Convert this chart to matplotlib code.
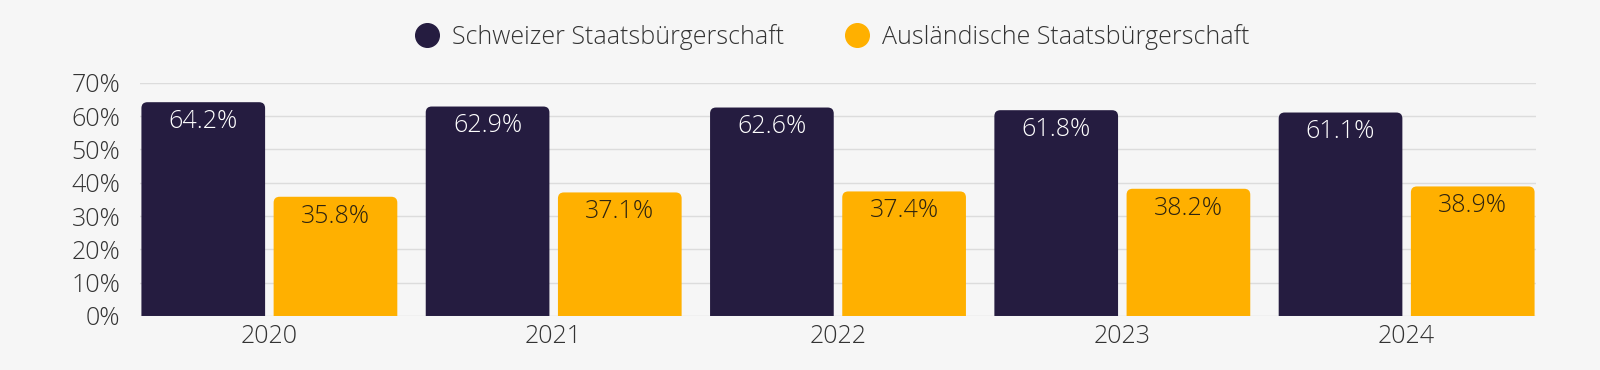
import matplotlib.pyplot as plt
from matplotlib.patches import PathPatch
from matplotlib.path import Path
import numpy as np

plt.rcParams['font.family'] = ['Open Sans', 'DejaVu Sans']

years = ['2020', '2021', '2022', '2023', '2024']
schweizer = [64.2, 62.9, 62.6, 61.8, 61.1]
auslaender = [35.8, 37.1, 37.4, 38.2, 38.9]
series_names = ['Schweizer Staatsbürgerschaft', 'Ausländische Staatsbürgerschaft']

dark = '#251c40'
yellow = '#ffb000'
bg = '#f6f6f6'

fig = plt.figure(figsize=(16, 3.7), dpi=100, facecolor=bg)
ax = fig.add_axes([0.0875, 0.146, 0.8725, 0.630], facecolor=bg)

x = np.arange(len(years))
w = 0.435
gap = 0.015
xlo, xhi = -0.455, len(years) - 1 + 0.455
ax.set_ylim(0, 70)
ax.set_xlim(xlo, xhi)

# corner radius of ~6px in data units on each axis
bbox = ax.get_position()
rx = 6 / (bbox.width * 1600 / (xhi - xlo))
ry = 6 / (bbox.height * 370 / 70)


def rounded_bar(xc, h, color):
    l, r = xc - w / 2, xc + w / 2
    verts = [(l, 0), (l, h - ry), (l, h), (l + rx, h), (r - rx, h), (r, h), (r, h - ry),
             (r, 0), (l, 0)]
    codes = [Path.MOVETO, Path.LINETO, Path.CURVE3, Path.CURVE3, Path.LINETO,
             Path.CURVE3, Path.CURVE3, Path.LINETO, Path.CLOSEPOLY]
    ax.add_patch(PathPatch(Path(verts, codes), fc=color, ec='none', zorder=3))


for xi, v in zip(x - gap - w / 2, schweizer):
    rounded_bar(xi, v, dark)
    ax.annotate(f'{v:.1f}%', (xi, v), xytext=(0, -5), textcoords='offset points',
                ha='center', va='top', color='white', fontsize=18, fontweight='light', zorder=4)
for xi, v in zip(x + gap + w / 2, auslaender):
    rounded_bar(xi, v, yellow)
    ax.annotate(f'{v:.1f}%', (xi, v), xytext=(0, -5), textcoords='offset points',
                ha='center', va='top', color='#2e2410', fontsize=18, fontweight='light', zorder=4)

ax.set_yticks(range(0, 71, 10))
ax.set_yticklabels([f'{t}%' for t in range(0, 71, 10)])
ax.set_xticks(x)
ax.set_xticklabels(years)
ax.tick_params(axis='both', length=0, labelsize=18, labelcolor='#333333')
ax.tick_params(axis='y', pad=14)
ax.tick_params(axis='x', pad=6)
for lab in ax.get_xticklabels() + ax.get_yticklabels():
    lab.set_fontweight('light')
ax.grid(axis='y', color='#dcdcdc', linewidth=1, zorder=0)
for s in ax.spines.values():
    s.set_visible(False)

leg_handles = [plt.Line2D([], [], marker='o', linestyle='', markersize=17, color=c) for c in (dark, yellow)]
fig.legend(handles=leg_handles, labels=series_names, loc='center', bbox_to_anchor=(0.52, 0.9),
           ncol=2, frameon=False, handlelength=1.0, columnspacing=2.4,
           handletextpad=0.5, labelcolor='#333333', prop={'weight': 'light', 'size': 18})

fig.savefig('out.png', dpi=100, facecolor=bg)
